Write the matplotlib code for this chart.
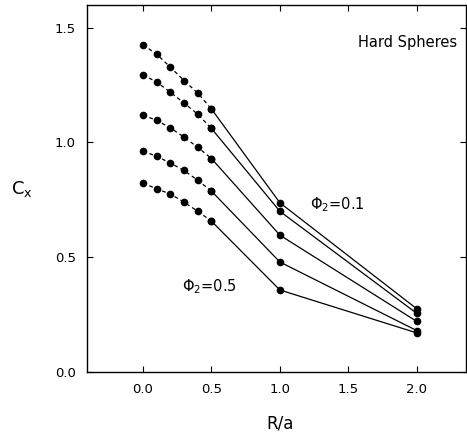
import matplotlib
matplotlib.use("Agg")
import matplotlib.pyplot as plt

# R/a positions of the points
r_near = [0.0, 0.1, 0.2, 0.3, 0.4, 0.5]
r_far = [0.5, 1.0, 2.0]

# C_x for each volume fraction (top curve phi2=0.1 ... bottom phi2=0.5)
cx_near = [
    [1.425, 1.385, 1.328, 1.270, 1.215, 1.146],
    [1.295, 1.263, 1.219, 1.172, 1.123, 1.061],
    [1.120, 1.096, 1.064, 1.023, 0.979, 0.930],
    [0.962, 0.940, 0.910, 0.878, 0.835, 0.788],
    [0.823, 0.798, 0.775, 0.740, 0.700, 0.657],
]
cx_far = [
    [1.146, 0.737, 0.275],
    [1.061, 0.700, 0.255],
    [0.930, 0.596, 0.220],
    [0.788, 0.479, 0.180],
    [0.657, 0.357, 0.170],
]

xticks = [0.0, 0.5, 1.0, 1.5, 2.0]
yticks = [0.0, 0.5, 1.0, 1.5]

fig = plt.figure(figsize=(4.67, 4.36), dpi=100)
ax = fig.add_axes([0.186, 0.147, 0.812, 0.842])

for near, far in zip(cx_near, cx_far):
    ax.plot(r_near, near, color="black", lw=0.9, ls=(0, (3, 2.5)),
            marker="o", ms=4.5, mfc="black", mec="black")
    ax.plot(r_far, far, color="black", lw=0.9, ls="-",
            marker="o", ms=4.5, mfc="black", mec="black")

ax.set_xlim(-0.41, 2.36)
ax.set_ylim(0.0, 1.6)
ax.set_xticks(xticks)
ax.set_yticks(yticks)
ax.set_xticklabels(["%.1f" % v for v in xticks])
ax.set_yticklabels(["%.1f" % v for v in yticks])
ax.tick_params(direction="in", top=True, right=True, length=4,
               width=0.8, labelsize=9.5, pad=8)
for s in ax.spines.values():
    s.set_linewidth(1.0)

ax.set_xlabel("R/a", fontsize=12)
ax.xaxis.set_label_coords(0.51, -0.115)
ax.set_ylabel(r"$\mathregular{C_x}$", fontsize=13, rotation=0)
ax.yaxis.set_label_coords(-0.17, 0.47)

ax.text(1.93, 1.435, "Hard Spheres", fontsize=10.5, ha="center", va="center")
ax.text(1.22, 0.73, r"$\mathregular{\Phi_2}$=0.1", fontsize=10.5, ha="left", va="center")
ax.text(0.285, 0.37, r"$\mathregular{\Phi_2}$=0.5", fontsize=10.5, ha="left", va="center")

fig.savefig("out.png", dpi=100)
